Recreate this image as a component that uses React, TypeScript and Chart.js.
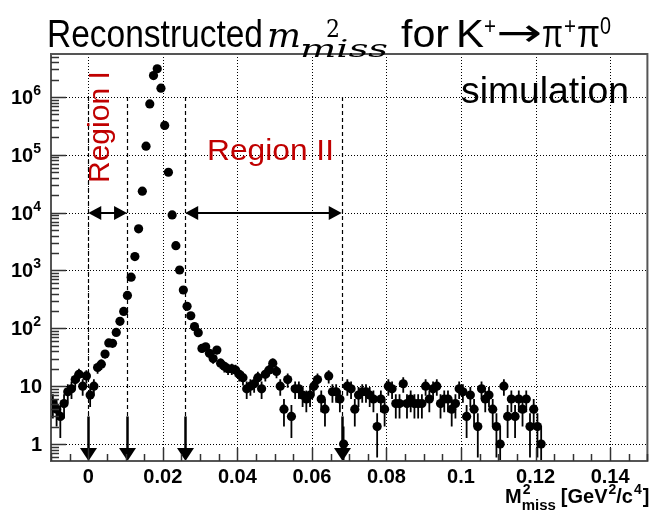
import React, { useEffect, useRef } from "react";
import { Chart, registerables } from "chart.js";

Chart.register(...registerables);

// Histogram binning (bin centres = BIN_LOW + (i + 0.5) * BIN_WIDTH)
const BIN_LOW = -0.01;
const BIN_WIDTH = 0.001;

// Entries per bin
const countsSideband = [5, 4, 3, 5, 8, 9, 13, 16, 10, 15, 7, 10, 21, 24, 36, 56, 55, 85, 132, 196];
const countsPeak = [370, 765, 1740, 5250, 23500, 141000, 760000, 2350000, 3080000, 1420000,
  323000, 50000, 9150, 2690, 1020, 460, 240, 165, 107, 84];
const countsTail = [45, 48, 37, 30, 42, 25, 22, 20, 20, 19,
  16, 14, 9, 10, 11, 14, 9, 16, 19, 25,
  18, 10, 4, 13, 3, 9, 9, 7, 6, 7,
  10, 13, 6, 4, 15, 8, 8, 6, 1, 10,
  9, 4, 7, 8, 8, 7, 6, 2, 6, 4,
  10, 9, 5, 5, 11, 5, 6, 5, 5, 5,
  10, 6, 9, 10, 5, 6, 6, 4, 5, 9,
  8, 3, 7, 4, 2, 9, 6, 7, 4, 2,
  1, 10, 3, 6, 3, 6, 4, 6, 2, 4, 2, 1];

// Axes
const X_MIN = -0.01;
const X_MAX = 0.15;
const Y_MIN = 0.508;
const Y_MAX = 5.54e6;
const xMajorTicks = [0, 0.02, 0.04, 0.06, 0.08, 0.1, 0.12, 0.14];
const xTickLabels = ["0", "0.02", "0.04", "0.06", "0.08", "0.1", "0.12", "0.14"];
const yDecades = [1, 10, 100, 1e3, 1e4, 1e5, 1e6];
const yTickBase = ["1", "10", "10", "10", "10", "10", "10"];
const yTickExp = ["", "", "2", "3", "4", "5", "6"];

// Region cuts
const regionCuts = [0, 0.0104, 0.026, 0.068];
const regionOne = [0, 0.0104];
const regionTwo = [0.026, 0.068];
const ARROW_LEVEL = 1e4;
const CUT_TOP = 1e6;
const CUT_ARROW_START = 3;

const RED = "#c00000";

const allCounts = [...countsSideband, ...countsPeak, ...countsTail];
const points = allCounts.map((c, i) => ({ x: BIN_LOW + (i + 0.5) * BIN_WIDTH, y: c }));

function arrowHead(ctx: CanvasRenderingContext2D, tx: number, ty: number, dx: number, dy: number, len: number, hw: number) {
  const bx = tx - dx * len;
  const by = ty - dy * len;
  const px = -dy;
  const py = dx;
  ctx.beginPath();
  ctx.moveTo(tx, ty);
  ctx.lineTo(bx + px * hw, by + py * hw);
  ctx.lineTo(bx - px * hw, by - py * hw);
  ctx.closePath();
  ctx.fill();
}

const rootPlugin = {
  id: "rootStyle",
  beforeDatasetsDraw(chart: any) {
    const { ctx, chartArea: a, scales } = chart;
    const xs = scales.x;
    const ys = scales.y;
    ctx.save();
    // dotted grid
    ctx.strokeStyle = "#000";
    ctx.lineWidth = 1;
    ctx.setLineDash([1, 2]);
    for (const v of xMajorTicks) {
      const px = Math.round(xs.getPixelForValue(v)) + 0.5;
      ctx.beginPath();
      ctx.moveTo(px, a.top);
      ctx.lineTo(px, a.bottom);
      ctx.stroke();
    }
    for (const v of yDecades) {
      const py = Math.round(ys.getPixelForValue(v)) + 0.5;
      ctx.beginPath();
      ctx.moveTo(a.left, py);
      ctx.lineTo(a.right, py);
      ctx.stroke();
    }
    ctx.setLineDash([]);

    // error bars
    ctx.beginPath();
    ctx.rect(a.left, a.top, a.width, a.height);
    ctx.clip();
    ctx.lineWidth = 1.8;
    for (const p of points) {
      const e = Math.sqrt(p.y);
      const px = xs.getPixelForValue(p.x);
      const hi = ys.getPixelForValue(p.y + e);
      const lo = p.y - e > Y_MIN ? ys.getPixelForValue(p.y - e) : a.bottom;
      ctx.beginPath();
      ctx.moveTo(px, hi);
      ctx.lineTo(px, lo);
      ctx.stroke();
    }
    ctx.restore();
  },
  afterDatasetsDraw(chart: any) {
    const { ctx, chartArea: a, scales } = chart;
    const xs = scales.x;
    const ys = scales.y;
    ctx.save();

    // dashed cut lines and arrows
    const yTop = ys.getPixelForValue(CUT_TOP);
    const yArr = ys.getPixelForValue(CUT_ARROW_START);
    ctx.strokeStyle = "#000";
    ctx.fillStyle = "#000";
    for (const c of regionCuts) {
      const px = Math.round(xs.getPixelForValue(c)) + 0.5;
      ctx.lineWidth = 1.2;
      ctx.setLineDash([4, 3]);
      ctx.beginPath();
      ctx.moveTo(px, yTop);
      ctx.lineTo(px, yArr);
      ctx.stroke();
      ctx.setLineDash([]);
      ctx.lineWidth = 2.5;
      ctx.beginPath();
      ctx.moveTo(px, yArr);
      ctx.lineTo(px, a.bottom - 10);
      ctx.stroke();
      arrowHead(ctx, px, a.bottom, 0, 1, 13, 8.5);
    }
    const yH = Math.round(ys.getPixelForValue(ARROW_LEVEL));
    for (const [r0, r1] of [regionOne, regionTwo]) {
      const x0 = xs.getPixelForValue(r0);
      const x1 = xs.getPixelForValue(r1);
      ctx.lineWidth = 2;
      ctx.beginPath();
      ctx.moveTo(x0 + 10, yH);
      ctx.lineTo(x1 - 10, yH);
      ctx.stroke();
      arrowHead(ctx, x0, yH, -1, 0, 13, 7);
      arrowHead(ctx, x1, yH, 1, 0, 13, 7);
    }

    // frame
    ctx.strokeStyle = "#555";
    ctx.lineWidth = 2;
    ctx.strokeRect(a.left, a.top, a.right - a.left, a.bottom - a.top);

    // ticks
    ctx.strokeStyle = "#333";
    ctx.lineWidth = 1.5;
    for (let k = -1; k <= 6; k++) {
      for (let m = 1; m <= 9; m++) {
        const v = m * Math.pow(10, k);
        if (v < Y_MIN || v > Y_MAX) continue;
        const py = Math.round(ys.getPixelForValue(v)) + 0.5;
        const len = m === 1 ? 15 : 8;
        ctx.beginPath();
        ctx.moveTo(a.left, py);
        ctx.lineTo(a.left + len, py);
        ctx.stroke();
      }
    }
    for (let k = -2; k <= 30; k++) {
      const v = k * 0.005;
      if (v < X_MIN - 1e-9 || v > X_MAX + 1e-9) continue;
      const px = Math.round(xs.getPixelForValue(v)) + 0.5;
      const len = k % 4 === 0 ? 13 : 7;
      ctx.beginPath();
      ctx.moveTo(px, a.bottom);
      ctx.lineTo(px, a.bottom - len);
      ctx.stroke();
    }

    // tick labels
    ctx.fillStyle = "#000";
    ctx.textBaseline = "alphabetic";
    const BOLD = '"Liberation Sans", Arial, sans-serif';
    xMajorTicks.forEach((v, i) => {
      ctx.font = `bold 20px ${BOLD}`;
      ctx.textAlign = "center";
      ctx.fillText(xTickLabels[i], xs.getPixelForValue(v), a.bottom + 22);
    });
    yDecades.forEach((v, i) => {
      const py = ys.getPixelForValue(v);
      ctx.textAlign = "right";
      let right = 42;
      if (yTickExp[i]) {
        ctx.font = `bold 14px ${BOLD}`;
        ctx.fillText(yTickExp[i], 41, py - 2);
        right = 41 - ctx.measureText(yTickExp[i]).width;
      }
      ctx.font = `bold 20px ${BOLD}`;
      ctx.fillText(yTickBase[i], right, py + 7);
    });

    // x axis title: M^2_miss [GeV^2/c^4]
    ctx.textAlign = "left";
    let tx = 505;
    const base = 503;
    ctx.font = `bold 20px ${BOLD}`;
    ctx.fillText("M", tx, base);
    tx += ctx.measureText("M").width;
    ctx.font = `bold 14px ${BOLD}`;
    ctx.fillText("2", tx + 1, base - 9);
    ctx.font = `bold 15px ${BOLD}`;
    ctx.fillText("miss", tx, base + 7);
    tx += ctx.measureText("miss").width + 5;
    ctx.font = `bold 20px ${BOLD}`;
    ctx.fillText("[GeV", tx, base);
    tx += ctx.measureText("[GeV").width;
    ctx.font = `bold 14px ${BOLD}`;
    ctx.fillText("2", tx + 1, base - 9);
    tx += ctx.measureText("2").width + 1;
    ctx.font = `bold 20px ${BOLD}`;
    ctx.fillText("/c", tx, base);
    tx += ctx.measureText("/c").width;
    ctx.font = `bold 14px ${BOLD}`;
    ctx.fillText("4", tx + 1, base - 9);
    tx += ctx.measureText("4").width + 2;
    ctx.font = `bold 20px ${BOLD}`;
    ctx.fillText("]", tx, base);

    ctx.restore();
  },
  afterDraw(chart: any) {
    const { ctx } = chart;
    ctx.save();
    ctx.fillStyle = "#000";
    ctx.textBaseline = "alphabetic";
    ctx.textAlign = "left";
    const SANS = '"Liberation Sans", Arial, sans-serif';
    const SERIF = '"DejaVu Serif", serif';
    // draw text squeezed/stretched horizontally to a target width
    const fit = (text: string, x: number, y: number, font: string, w: number) => {
      ctx.save();
      ctx.font = font;
      const m = ctx.measureText(text).width;
      ctx.translate(x, y);
      ctx.scale(w / m, 1);
      ctx.fillText(text, 0, 0);
      ctx.restore();
    };
    // Title
    fit("Reconstructed", 47, 47, `39px ${SANS}`, 216);
    fit("m", 267, 47, `italic 33px ${SERIF}`, 34);
    fit("2", 326, 37, `25px ${SERIF}`, 14);
    fit("miss", 300, 57, `italic 25px ${SERIF}`, 88);
    fit("for", 401, 47, `39px ${SANS}`, 48);
    fit("K", 456, 47, `39px ${SANS}`, 28);
    fit("+", 484, 34, `24px ${SANS}`, 12);
    fit("\u2192", 496, 46, `39px "DejaVu Sans", sans-serif`, 46);
    fit("\u03c0", 542, 47, `39px ${SANS}`, 21);
    fit("+", 564, 34, `24px ${SANS}`, 12);
    fit("\u03c0", 577, 47, `39px ${SANS}`, 23);
    fit("0", 600, 34, `24px ${SANS}`, 11);

    // simulation
    fit("simulation", 461, 103, `37px ${SANS}`, 168);

    // Region labels
    ctx.fillStyle = RED;
    fit("Region II", 207, 160, `30px ${SANS}`, 127);
    ctx.save();
    ctx.translate(109, 183);
    ctx.rotate(-Math.PI / 2);
    ctx.font = `30px ${SANS}`;
    ctx.fillText("Region I", 0, 0);
    ctx.restore();
    ctx.restore();
  },
};

export default function App() {
  const ref = useRef<HTMLCanvasElement>(null);
  useEffect(() => {
    if (!ref.current) return;
    const chart = new Chart(ref.current, {
      type: "scatter",
      data: {
        datasets: [
          {
            data: points,
            pointRadius: 4.6,
            pointBackgroundColor: "#000",
            pointBorderColor: "#000",
            pointBorderWidth: 0,
            showLine: false,
          },
        ],
      },
      options: {
        animation: false,
        responsive: false,
        events: [],
        layout: { padding: { left: 51, right: 1, top: 54, bottom: 53 } },
        plugins: { legend: { display: false }, tooltip: { enabled: false }, title: { display: false } },
        scales: {
          x: { type: "linear", min: X_MIN, max: X_MAX, display: false },
          y: { type: "logarithmic", min: Y_MIN, max: Y_MAX, display: false },
        },
      },
      plugins: [rootPlugin],
    });
    return () => chart.destroy();
  }, []);
  return (
    <div style={{ position: "fixed", left: 0, top: 0, width: 652, height: 514, background: "#fff" }}>
      <canvas ref={ref} width={652} height={514} style={{ display: "block" }} />
    </div>
  );
}
